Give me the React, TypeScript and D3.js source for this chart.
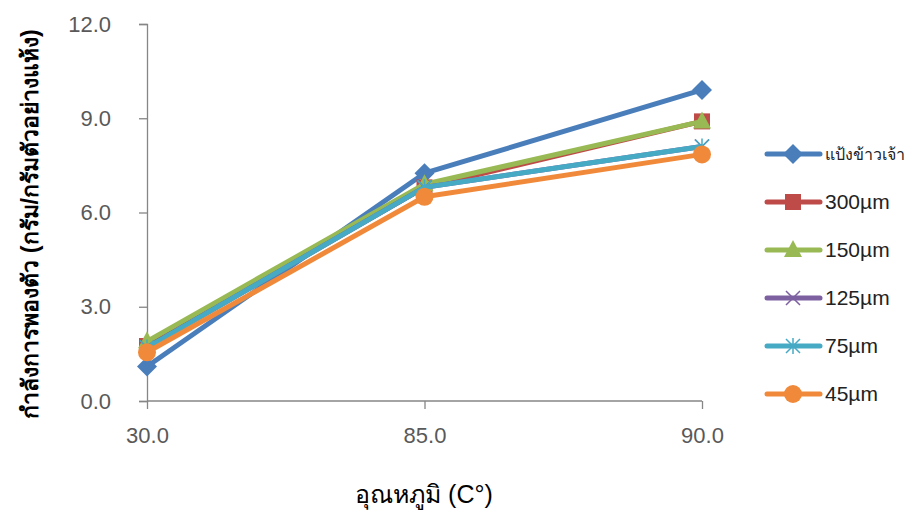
import React, { useRef, useEffect } from 'react';
import * as d3 from 'd3';

const categories = ['30.0', '85.0', '90.0'];
const yTicks = [0, 3, 6, 9, 12];

const seriesNames = ['แป้งข้าวเจ้า', '300µm', '150µm', '125µm', '75µm', '45µm'];
const riceFlour = [1.1, 7.25, 9.9];
const um300 = [1.75, 6.8, 8.9];
const um150 = [1.9, 6.9, 8.9];
const um125 = [1.7, 6.8, 8.1];
const um75 = [1.7, 6.8, 8.1];
const um45 = [1.55, 6.5, 7.85];

const colors = ['#4A7EBB', '#BE4B48', '#98B954', '#7D60A0', '#46AAC5', '#F08A3A'];
const shapes = ['diamond', 'square', 'triangle', 'x', 'star', 'circle'];

const W = 912;
const H = 527;

const drawMarker = (g: any, shape: string, color: string, x: number, y: number) => {
  if (shape === 'diamond') {
    g.append('path').attr('d', `M${x},${y - 10}L${x + 10},${y}L${x},${y + 10}L${x - 10},${y}Z`).attr('fill', color);
  } else if (shape === 'square') {
    g.append('rect').attr('x', x - 8).attr('y', y - 8).attr('width', 16).attr('height', 16).attr('fill', color);
  } else if (shape === 'triangle') {
    g.append('path').attr('d', `M${x},${y - 10}L${x + 9},${y + 7}L${x - 9},${y + 7}Z`).attr('fill', color);
  } else if (shape === 'circle') {
    g.append('circle').attr('cx', x).attr('cy', y).attr('r', 9).attr('fill', color);
  } else if (shape === 'x') {
    g.append('path').attr('d', `M${x - 7},${y - 7}L${x + 7},${y + 7}M${x - 7},${y + 7}L${x + 7},${y - 7}`)
      .attr('stroke', color).attr('stroke-width', 1.5).attr('fill', 'none');
  } else if (shape === 'star') {
    g.append('path').attr('d', `M${x - 7},${y - 7}L${x + 7},${y + 7}M${x - 7},${y + 7}L${x + 7},${y - 7}M${x},${y - 8}L${x},${y + 8}`)
      .attr('stroke', color).attr('stroke-width', 1.5).attr('fill', 'none');
  }
};

const App: React.FC = () => {
  const svgRef = useRef<SVGSVGElement>(null);

  useEffect(() => {
    if (!svgRef.current) return;
    const svg = d3.select(svgRef.current);
    svg.selectAll('*').remove();

    const font = "'Liberation Sans', Arial, sans-serif";
    const data = [riceFlour, um300, um150, um125, um75, um45];

    const x = d3.scalePoint<string>().domain(categories).range([147, 702]);
    const y = d3.scaleLinear().domain([0, 12]).range([401, 24]);

    // y axis
    const yAxis = svg.append('g').attr('transform', `translate(147,0)`)
      .call(d3.axisLeft(y).tickValues(yTicks).tickFormat(d3.format('.1f')).tickSize(8).tickPadding(28));
    yAxis.select('.domain').attr('stroke', '#868686').attr('stroke-width', 1.3);
    yAxis.selectAll('line').attr('stroke', '#868686').attr('stroke-width', 1.3);
    yAxis.selectAll('text').attr('fill', '#595959').style('font-size', '22px').style('font-family', font);

    // x axis
    const xAxis = svg.append('g').attr('transform', `translate(0,${y(0)})`)
      .call(d3.axisBottom(x).tickSize(8).tickPadding(18));
    xAxis.select('.domain').attr('stroke', '#868686').attr('stroke-width', 1.3).attr('d', `M147,0H702`);
    xAxis.selectAll('line').attr('stroke', '#868686').attr('stroke-width', 1.3);
    xAxis.selectAll('text').attr('fill', '#595959').style('font-size', '22px').style('font-family', font);

    // lines
    const line = d3.line<number>().x((_, i) => x(categories[i]) as number).y(d => y(d));
    data.forEach((vals, si) => {
      const g = svg.append('g');
      g.append('path').datum(vals).attr('d', line).attr('fill', 'none')
        .attr('stroke', colors[si]).attr('stroke-width', 5).attr('stroke-linejoin', 'round');
      vals.forEach((v, i) => drawMarker(g, shapes[si], colors[si], x(categories[i]) as number, y(v)));
    });

    // legend
    const legendY = d3.scalePoint<string>().domain(seriesNames).range([154, 394]);
    seriesNames.forEach((name, si) => {
      const ly = legendY(name) as number;
      const g = svg.append('g');
      g.append('line').attr('x1', 767).attr('x2', 820).attr('y1', ly).attr('y2', ly)
        .attr('stroke', colors[si]).attr('stroke-width', 5).attr('stroke-linecap', 'round');
      drawMarker(g, shapes[si], colors[si], 793, ly);
      g.append('text').attr('x', 825).attr('y', ly).attr('dy', '0.35em')
        .attr('fill', '#222').style('font-size', si === 0 ? '16px' : '21px').style('font-family', font)
        .attr('textLength', si === 0 ? 80 : null)
        .text(name);
    });

    // axis titles
    svg.append('text').attr('transform', `translate(30,224) rotate(-90)`)
      .attr('text-anchor', 'middle').attr('dy', '0.35em')
      .style('font-size', '23px').style('font-weight', 'bold').style('font-family', font)
      .attr('fill', '#000').text('กำลังการพองตัว (กรัม/กรัมตัวอย่างแห้ง)');
    svg.append('text').attr('x', 424).attr('y', 503).attr('text-anchor', 'middle')
      .style('font-size', '25px').style('font-family', font)
      .attr('fill', '#000').text('อุณหภูมิ (C°)');
  }, []);

  return (
    <svg ref={svgRef} width={W} height={H}
      style={{ position: 'absolute', left: 0, top: 0, background: '#fff' }}
      viewBox={`0 0 ${W} ${H}`} />
  );
};

export default App;
